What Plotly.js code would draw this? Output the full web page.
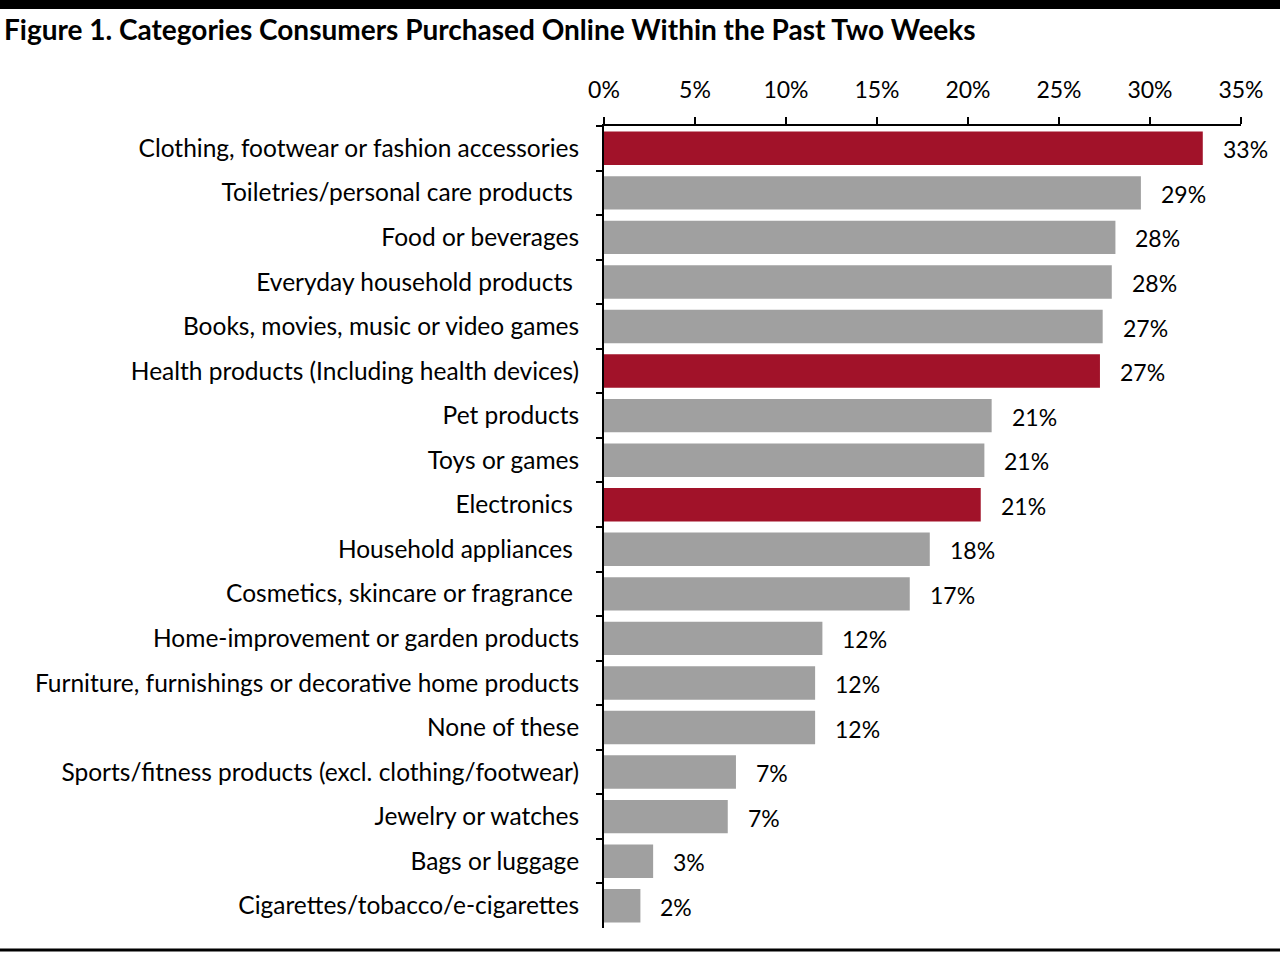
<!DOCTYPE html>
<html><head><meta charset="utf-8">
<script src="https://cdn.plot.ly/plotly-3.0.1.min.js"></script>
<style>html,body{margin:0;padding:0;background:#fff}#chart{width:1280px;height:954px}</style>
</head><body><div id="chart"></div>
<script>
const categories = [
  "Clothing, footwear or fashion accessories",
  "Toiletries/personal care products\u00a0",
  "Food or beverages",
  "Everyday household products\u00a0",
  "Books, movies, music or video games",
  "Health products (Including health devices)",
  "Pet products",
  "Toys or games",
  "Electronics\u00a0",
  "Household appliances\u00a0",
  "Cosmetics, skincare or fragrance\u00a0",
  "Home-improvement or garden products",
  "Furniture, furnishings or decorative home products",
  "None of these",
  "Sports/fitness products (excl. clothing/footwear)",
  "Jewelry or watches",
  "Bags or luggage",
  "Cigarettes/tobacco/e-cigarettes"
];
const values = [32.9, 29.5, 28.1, 27.9, 27.4, 27.25, 21.3, 20.9, 20.7, 17.9, 16.8, 12.0, 11.6, 11.6, 7.25, 6.8, 2.7, 2.0];
const valueLabels = ["33%","29%","28%","28%","27%","27%","21%","21%","21%","18%","17%","12%","12%","12%","7%","7%","3%","2%"];
const highlighted = ["Clothing, footwear or fashion accessories","Health products (Including health devices)","Electronics\u00a0"];
const tickValues = [0,5,10,15,20,25,30,35];
const tickLabels = ["0%","5%","10%","15%","20%","25%","30%","35%"];

const RED = "#A11229", GRAY = "#A0A0A0";
const FONT = "Lato, 'Open Sans', sans-serif";
const W = 1280, H = 954, L = 604, R = 39, T = 126, B = 26;
const pw = W - L - R, ph = H - T - B;
const px2x = p => (p - L) / pw;
const px2y = p => 1 - (p - T) / ph;

const trace = {
  type: "bar", orientation: "h",
  x: values, y: categories,
  marker: {color: categories.map(c => highlighted.includes(c) ? RED : GRAY)},
  hoverinfo: "none"
};
const annotations = values.map((v, i) => ({
  x: v, y: categories[i], xref: "x", yref: "y",
  text: valueLabels[i], showarrow: false, xanchor: "left", xshift: 18, yshift: -1,
  font: {family: FONT, size: 23, color: "#000"}
}));
const layout = {
  width: W, height: H,
  margin: {l: L, r: R, t: T, b: B, pad: 0},
  paper_bgcolor: "#fff", plot_bgcolor: "#fff",
  bargap: 0.25,
  showlegend: false,
  title: {text: "<b>Figure 1. Categories Consumers Purchased Online Within the Past Two Weeks</b>",
    x: 4/W, xanchor: "left", xref: "container", y: 1 - 30/H, yanchor: "middle", yref: "container",
    font: {family: FONT, size: 28, color: "#000"}},
  xaxis: {side: "top", range: [0, 35], tickvals: tickValues, ticktext: tickLabels,
    showgrid: false, zeroline: false, showline: true, linecolor: "#000", linewidth: 2,
    ticks: "outside", ticklen: 7, tickwidth: 2, tickcolor: "#000",
    ticklabelstandoff: 10,
    tickfont: {family: FONT, size: 23, color: "#000"}, fixedrange: true},
  yaxis: {autorange: "reversed", type: "category", showgrid: false, zeroline: false,
    showline: true, linecolor: "#000", linewidth: 2,
    ticks: "outside", ticklen: 6, tickwidth: 2, tickcolor: "#000", tickson: "boundaries",
    ticklabelstandoff: 18,
    tickfont: {family: FONT, size: 24.5, color: "#000"}, fixedrange: true},
  annotations: annotations,
  shapes: [
    {type: "rect", xref: "paper", yref: "paper", x0: px2x(0), x1: px2x(W), y0: px2y(0), y1: px2y(9),
      fillcolor: "#000", line: {width: 0}},
    {type: "line", xref: "paper", yref: "paper", x0: px2x(0), x1: px2x(W), y0: px2y(950), y1: px2y(950),
      line: {color: "#000", width: 3}}
  ]
};
Plotly.newPlot("chart", [trace], layout, {displayModeBar: false, staticPlot: true});
</script></body></html>
